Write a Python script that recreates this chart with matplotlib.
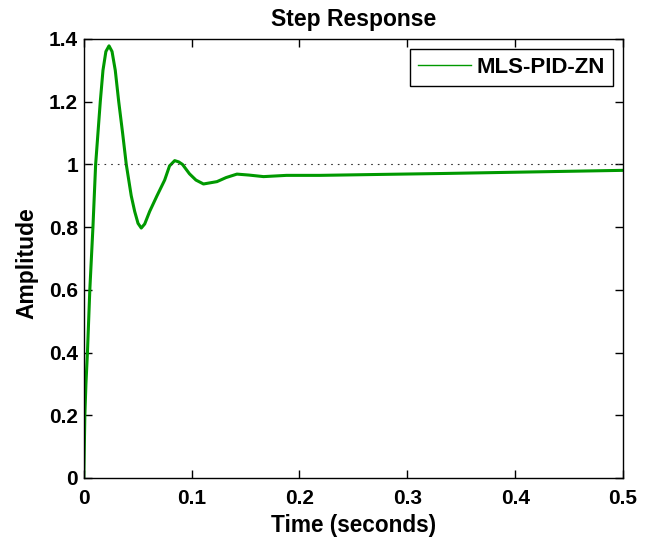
import numpy as np
import matplotlib
matplotlib.use('Agg')
from matplotlib import pyplot as plt

# step response samples
t = [0, 0.001, 0.002, 0.0034, 0.0056, 0.0085, 0.0110, 0.0153, 0.0178, 0.0205,
     0.0234, 0.0262, 0.0292, 0.0324, 0.036, 0.0394, 0.0440, 0.0472, 0.0503, 0.0533,
     0.0565, 0.0611, 0.0679, 0.0750, 0.0795, 0.0843, 0.088, 0.0915, 0.098, 0.104,
     0.111, 0.1235, 0.132, 0.142, 0.153, 0.1667, 0.188, 0.219, 0.275,
     0.3335, 0.40, 0.45, 0.50]
amp = [0, 0.2, 0.3, 0.4, 0.6, 0.8, 1.0, 1.2, 1.3, 1.36,
       1.378, 1.36, 1.3, 1.2, 1.1, 1.0, 0.9, 0.85, 0.812, 0.797,
       0.81, 0.85, 0.9, 0.95, 0.995, 1.012, 1.008, 1.0, 0.97, 0.95,
       0.9375, 0.945, 0.958, 0.969, 0.966, 0.961, 0.965, 0.965, 0.968,
       0.971, 0.975, 0.978, 0.981]

plt.rcParams['font.family'] = ['Liberation Sans', 'DejaVu Sans']
plt.rcParams['font.weight'] = 'bold'
plt.rcParams['axes.labelweight'] = 'bold'
plt.rcParams['axes.titleweight'] = 'bold'

fig = plt.figure(figsize=(6.54, 5.41), dpi=100)
ax = fig.add_axes([0.1281, 0.1165, 0.8245, 0.8115])

ax.plot(t, amp, color='#009900', lw=2.2, label='MLS-PID-ZN')
ax.plot([0, 0.5], [1, 1], color='#333333', lw=0.8, linestyle=(0, (1.5, 4.5)))

ax.set_xlim(0, 0.5)
ax.set_ylim(0, 1.4)
ax.set_xticks(np.arange(0, 0.51, 0.1))
ax.set_xticklabels(['0', '0.1', '0.2', '0.3', '0.4', '0.5'])
ax.set_yticks(np.arange(0, 1.41, 0.2))
ax.set_yticklabels(['0', '0.2', '0.4', '0.6', '0.8', '1', '1.2', '1.4'])
ax.tick_params(direction='in', length=6, width=1, top=True, right=True,
               labelsize=15)
ax.tick_params(axis='x', pad=8)
ax.tick_params(axis='y', pad=4)
for s in ax.spines.values():
    s.set_linewidth(1)

ax.set_title('Step Response', fontsize=16.5, pad=9)
ax.set_xlabel('Time (seconds)', fontsize=16.3)
ax.set_ylabel('Amplitude', fontsize=16.5)
ax.xaxis.set_label_coords(0.5, -0.082)
ax.yaxis.set_label_coords(-0.084, 0.49)

leg = ax.legend(loc='upper right', fontsize=16, frameon=True, fancybox=False,
                edgecolor='black', framealpha=1, handlelength=2.4,
                handletextpad=0.25, borderaxespad=0.45, borderpad=0.35)
leg.get_frame().set_linewidth(1)
for ln in leg.get_lines():
    ln.set_linewidth(1)

fig.savefig('out.png', dpi=100)
